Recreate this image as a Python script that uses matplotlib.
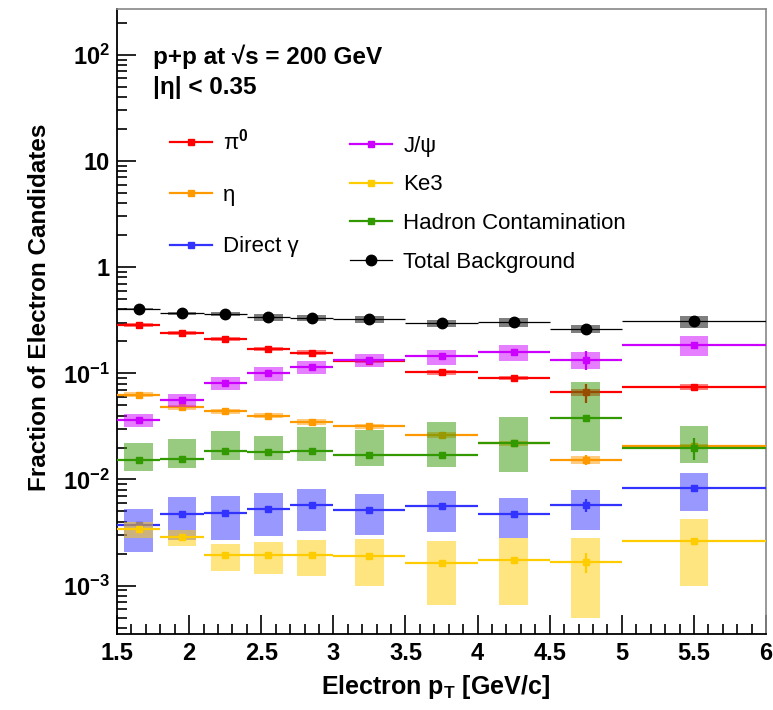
import numpy as np
import matplotlib
matplotlib.use('Agg')
import matplotlib.pyplot as plt
from matplotlib.lines import Line2D
from matplotlib.ticker import FixedLocator, FuncFormatter, MultipleLocator, NullFormatter

plt.rcParams['font.family'] = ['Liberation Sans', 'DejaVu Sans']
plt.rcParams['font.weight'] = 'bold'
plt.rcParams['mathtext.fontset'] = 'custom'
plt.rcParams['mathtext.rm'] = 'Liberation Sans'
plt.rcParams['mathtext.it'] = 'Liberation Sans:italic'
plt.rcParams['mathtext.bf'] = 'Liberation Sans:bold'

# pT bins
edges = [1.5, 1.8, 2.1, 2.4, 2.7, 3.0, 3.5, 4.0, 4.5, 5.0, 6.0]
centers = [1.65, 1.95, 2.25, 2.55, 2.85, 3.25, 3.75, 4.25, 4.75, 5.5]

# fractions, systematic box edges (lo/hi) and stat errors
pi0 = [0.285, 0.239, 0.210, 0.170, 0.157, 0.130, 0.102, 0.0904, 0.066, 0.0748]
pi0_lo = [0.271, 0.228, 0.200, 0.162, 0.149, 0.124, 0.097, 0.086, 0.061, 0.070]
pi0_hi = [0.299, 0.250, 0.220, 0.178, 0.165, 0.136, 0.107, 0.095, 0.071, 0.080]
pi0_stat = [0.003, 0.002, 0.002, 0.002, 0.002, 0.002, 0.002, 0.002, 0.013, 0.002]

eta = [0.0629, 0.0477, 0.0438, 0.0399, 0.0348, 0.0316, 0.0262, 0.0219, 0.0153, 0.0205]
eta_lo = [0.0595, 0.0450, 0.0413, 0.0376, 0.0328, 0.0298, 0.0247, 0.0206, 0.0141, 0.0193]
eta_hi = [0.0663, 0.0504, 0.0463, 0.0422, 0.0368, 0.0334, 0.0277, 0.0232, 0.0165, 0.0217]
eta_stat = [0.0006, 0.0005, 0.0004, 0.0004, 0.0004, 0.0004, 0.0004, 0.0004, 0.0017, 0.0005]

gam = [0.0037, 0.00476, 0.00483, 0.00523, 0.0057, 0.0052, 0.00558, 0.00476, 0.0057, 0.00832]
gam_lo = [0.00208, 0.00267, 0.00271, 0.00296, 0.00325, 0.00302, 0.00322, 0.00281, 0.00332, 0.00501]
gam_hi = [0.00527, 0.00679, 0.00693, 0.00746, 0.00813, 0.00735, 0.00785, 0.0067, 0.00802, 0.0115]
gam_stat = [0.0001, 0.0001, 0.0001, 0.0001, 0.0001, 0.0001, 0.0001, 0.0001, 0.0008, 0.0002]

jpsi = [0.0363, 0.0564, 0.081, 0.1006, 0.1146, 0.134, 0.144, 0.160, 0.134, 0.1846]
jpsi_lo = [0.0312, 0.0482, 0.069, 0.0851, 0.0985, 0.1146, 0.1205, 0.1315, 0.1097, 0.1443]
jpsi_hi = [0.0414, 0.0643, 0.0923, 0.1146, 0.1315, 0.153, 0.1667, 0.186, 0.1585, 0.2228]
jpsi_stat = [0.0008, 0.001, 0.0015, 0.002, 0.002, 0.003, 0.003, 0.004, 0.027, 0.004]

ke3 = [0.00342, 0.00285, 0.00193, 0.00193, 0.00195, 0.00189, 0.00164, 0.00176, 0.00167, 0.00265]
ke3_lo = [0.00281, 0.00234, 0.00138, 0.00129, 0.00122, 0.00100, 0.00065, 0.00066, 0.00050, 0.00099]
ke3_hi = [0.00395, 0.00332, 0.00248, 0.00258, 0.00267, 0.00277, 0.00261, 0.00281, 0.00281, 0.00425]
ke3_stat = [0.00005, 0.00005, 0.00004, 0.00004, 0.00004, 0.00004, 0.00004, 0.00004, 0.00035, 0.00006]

had = [0.0151, 0.0157, 0.0187, 0.0180, 0.0187, 0.0169, 0.0171, 0.0219, 0.0379, 0.0198]
had_lo = [0.0121, 0.0127, 0.0154, 0.0154, 0.0150, 0.0135, 0.0130, 0.0118, 0.0187, 0.0142]
had_hi = [0.0222, 0.0242, 0.0284, 0.0255, 0.0310, 0.0294, 0.0348, 0.0385, 0.0834, 0.0316]
had_stat = [0.0003, 0.0003, 0.0004, 0.0004, 0.0004, 0.0004, 0.0004, 0.0005, 0.0008, 0.0047]

tot = [0.403, 0.367, 0.364, 0.336, 0.334, 0.322, 0.297, 0.302, 0.261, 0.308]
tot_lo = [0.395, 0.352, 0.346, 0.313, 0.311, 0.300, 0.273, 0.272, 0.238, 0.268]
tot_hi = [0.411, 0.382, 0.382, 0.359, 0.357, 0.345, 0.321, 0.332, 0.284, 0.348]
tot_stat = [0.003, 0.003, 0.003, 0.003, 0.003, 0.003, 0.003, 0.003, 0.004, 0.004]

series = [
    ('\u03c0$^{0}$', pi0, pi0_lo, pi0_hi, pi0_stat, '#ff0000', 's'),
    ('\u03b7', eta, eta_lo, eta_hi, eta_stat, '#ff9900', 's'),
    ('Direct \u03b3', gam, gam_lo, gam_hi, gam_stat, '#3333ff', 's'),
    ('J/\u03c8', jpsi, jpsi_lo, jpsi_hi, jpsi_stat, '#cc00ff', 's'),
    ('Ke3', ke3, ke3_lo, ke3_hi, ke3_stat, '#ffcc00', 's'),
    ('Hadron Contamination', had, had_lo, had_hi, had_stat, '#339900', 's'),
    ('Total Background', tot, tot_lo, tot_hi, tot_stat, '#000000', 'o'),
]

fig = plt.figure(figsize=(7.73, 7.10), dpi=100)
ax = fig.add_axes([0.1514, 0.107, 0.8396, 0.8803])
ax.set_yscale('log')

handles = []
for k, (lab, v, lo, hi, st, col, mk) in enumerate(series):
    lo = np.array(lo)
    hi = np.array(hi)
    ax.bar(centers, hi - lo, bottom=lo, width=0.2, color=col, alpha=0.5,
           linewidth=0, zorder=2 + 3 * k)
    lw = 0.9 if mk == 'o' else 1.6
    ms = 7.5 if mk == 'o' else 5
    ax.hlines(v, edges[:-1], edges[1:], colors=col, linewidth=lw, zorder=3 + 3 * k)
    ax.errorbar(centers, v, yerr=st, fmt=mk, color=col, ms=ms, elinewidth=1.6,
                capsize=0, zorder=4 + 3 * k)
    handles.append(Line2D([], [], color=col, marker=mk, ms=ms, lw=lw if mk == 'o' else 1.6))

ax.set_xlim(1.5, 6)
ax.set_ylim(3.5e-4, 270)

ax.xaxis.set_major_locator(MultipleLocator(0.5))
ax.xaxis.set_minor_locator(MultipleLocator(0.1))
ax.xaxis.set_major_formatter(FuncFormatter(lambda x, p: ('%g' % x)))


def yfmt(v, p):
    e = int(round(np.log10(v)))
    if e == 0:
        return '1'
    if e == 1:
        return '10'
    return '10$^{\\mathbf{%d}}$' % e


ax.yaxis.set_major_locator(FixedLocator([1e-3, 1e-2, 1e-1, 1, 10, 100]))
minors = [m * 10.0 ** d for d in range(-4, 3) for m in range(2, 10)]
ax.yaxis.set_minor_locator(FixedLocator(minors))
ax.yaxis.set_major_formatter(FuncFormatter(yfmt))
ax.yaxis.set_minor_formatter(NullFormatter())

ax.tick_params(which='both', direction='in', top=False, right=False, width=1.2)
ax.tick_params(which='major', length=14, labelsize=17)
ax.tick_params(which='minor', length=7)
ax.tick_params(axis='x', pad=6)
ax.tick_params(axis='y', pad=5)

for s in ['left', 'bottom']:
    ax.spines[s].set_linewidth(1.3)
for s in ['top', 'right']:
    ax.spines[s].set_color('#888888')
    ax.spines[s].set_linewidth(1.2)

ax.set_xlabel('Electron p$_{\\mathbf{T}}$ [GeV/c]', fontsize=18, fontweight='bold')
ax.xaxis.set_label_coords(0.49, -0.062)
ax.set_ylabel('Fraction of Electron Candidates', fontsize=17.5, fontweight='bold')
ax.yaxis.set_label_coords(-0.102, 0.523)

ax.text(0.0555, 0.923, 'p+p at \u221as = 200 GeV', transform=ax.transAxes,
        fontsize=17.5, fontweight='bold', va='center', ha='left')
ax.text(0.0555, 0.874, '|\u03b7| < 0.35', transform=ax.transAxes,
        fontsize=17.5, fontweight='bold', va='center', ha='left')

leg_font = {'size': 16, 'weight': 'normal'}
leg1 = ax.legend(handles[:3], [s[0] for s in series[:3]], loc='upper left',
                 bbox_to_anchor=(0.0817, 0.808), frameon=False, prop=leg_font,
                 borderpad=0, borderaxespad=0, handlelength=1.9, handletextpad=0.5,
                 labelspacing=1.36)
ax.add_artist(leg1)
ax.legend(handles[3:], [s[0] for s in series[3:]], loc='upper left',
          bbox_to_anchor=(0.359, 0.797), frameon=False, prop=leg_font,
          borderpad=0, borderaxespad=0, handlelength=1.9, handletextpad=0.5,
          labelspacing=0.79)

fig.savefig('out.png', dpi=100)
